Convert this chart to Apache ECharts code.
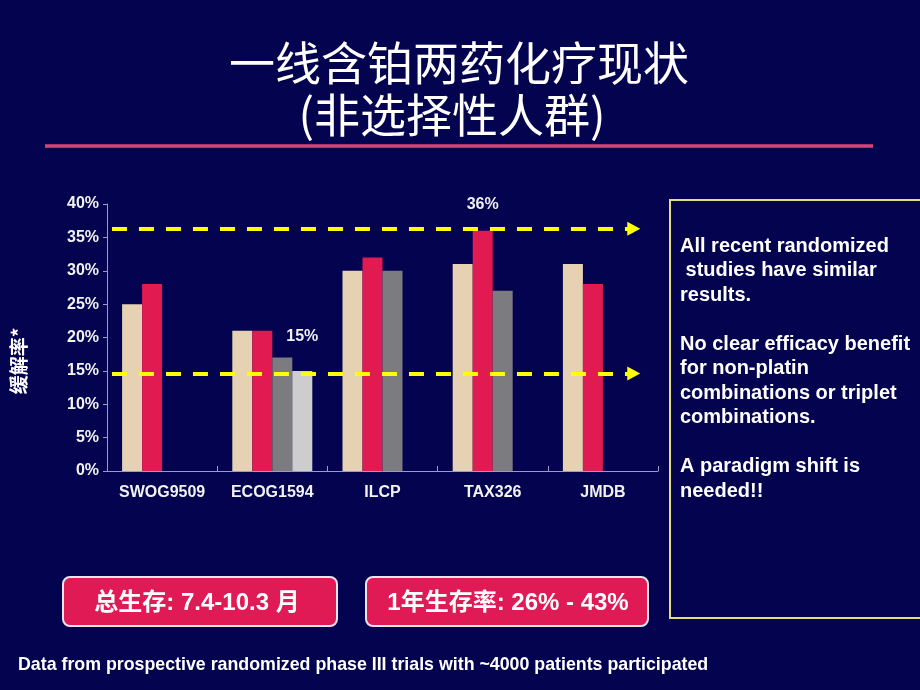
<!DOCTYPE html>
<html><head><meta charset="utf-8">
<script src="https://cdn.jsdelivr.net/npm/echarts@6/dist/echarts.min.js"></script>
<style>html,body{margin:0;padding:0;background:#03034f;}#c{width:920px;height:690px;}</style>
</head><body><div id="c"></div>
<script>
const categories = ['SWOG9509', 'ECOG1594', 'ILCP', 'TAX326', 'JMDB'];
const seriesBeige = [25, 21, 30, 31, 31];
const seriesRed = [28, 21, 32, 36, 28];
const seriesGray = [null, 17, 30, 27, null];
const seriesLight = [null, 15, null, null, null];
const callouts = [[1, 3, '36%'], [3, 1, '15%']]; // [seriesIndex, categoryIndex, text]
const guideLevels = [36.3, 14.6];
const guideSpan = [0.045, 4.78];
const titleLines = ['一线含铂两药化疗现状', '(非选择性人群)'];
const yName = '缓解率*';
const noteText = 'All recent randomized\n studies have similar\nresults.\n\nNo clear efficacy benefit\nfor non-platin\ncombinations or triplet\ncombinations.\n\nA paradigm shift is\nneeded!!';
const box1Text = '总生存: 7.4-10.3 月';
const box2Text = '1年生存率: 26% - 43%';
const footText = 'Data from prospective randomized phase III trials with ~4000 patients participated';

const colors = ['#E6D2B2', '#E21A52', '#7C7C80', '#CDCDCD'];
const FONT = '"Liberation Sans", Arial, "Noto Sans CJK SC", sans-serif';
const CJK = '"Noto Sans CJK SC", sans-serif';
const offsets = {1: -13, 3: -21};

function build(vals, si) {
  return vals.map((v, ci) => {
    const c = callouts.find(a => a[0] === si && a[1] === ci);
    if (!c || v == null) return v;
    return {value: v, label: {show: true, position: 'top', offset: [0, offsets[si]], formatter: c[2],
      color: '#F0F0F0', fontWeight: 'bold', fontSize: 16, fontFamily: FONT}};
  });
}

const chart = echarts.init(document.getElementById('c'));
const allSeries = [seriesBeige, seriesRed, seriesGray, seriesLight].map((vals, i) => ({
  type: 'bar', name: 's' + i, data: build(vals, i), barWidth: 20, barGap: '0%',
  itemStyle: {color: colors[i]}, xAxisIndex: 0, yAxisIndex: 0
}));
allSeries.push({
  type: 'line', xAxisIndex: 1, yAxisIndex: 0, data: [], silent: true,
  markLine: {
    silent: true, symbol: ['none', 'triangle'], symbolSize: [14, 13],
    label: {show: false},
    lineStyle: {type: [15, 12], width: 4, color: '#FFFF00'},
    data: guideLevels.map(v => [{coord: [guideSpan[0], v]}, {coord: [guideSpan[1], v]}])
  }
});

chart.setOption({
  backgroundColor: '#03034f',
  animation: false,
  grid: {left: 107, top: 204, width: 551, height: 267},
  xAxis: [{
    type: 'category', data: categories, gridIndex: 0,
    axisLine: {lineStyle: {color: '#9A9ACC', width: 1}},
    axisTick: {show: true, inside: true, length: 5, interval: 0, lineStyle: {color: '#9A9ACC'}},
    axisLabel: {interval: 0, hideOverlap: false, color: '#F2F2F2', fontWeight: 'bold', fontSize: 16, fontFamily: FONT, margin: 14}
  }, {
    type: 'value', gridIndex: 0, min: 0, max: 5, show: false
  }],
  yAxis: {
    type: 'value', min: 0, max: 40, interval: 5,
    splitLine: {show: false},
    axisLine: {show: true, lineStyle: {color: '#9A9ACC'}},
    axisTick: {show: true, length: 4, lineStyle: {color: '#9A9ACC'}},
    axisLabel: {formatter: '{value}%', color: '#F2F2F2', fontWeight: 'bold', fontSize: 16, fontFamily: FONT, margin: 8}
  },
  series: allSeries,
  graphic: [
    {type: 'text', x: 459, y: 63,
      style: {text: titleLines[0], fill: '#FFFFFF', font: 'normal 46px ' + CJK, align: 'center', verticalAlign: 'middle'}},
    {type: 'text', x: 452, y: 115,
      style: {text: titleLines[1], fill: '#FFFFFF', font: 'normal 46px ' + CJK, align: 'center', verticalAlign: 'middle'}},
    {type: 'rect', shape: {x: 45, y: 144, width: 828, height: 4},
      style: {fill: new echarts.graphic.LinearGradient(0, 0, 0, 1, [
        {offset: 0, color: '#9A2560'}, {offset: 0.5, color: '#E0508C'}, {offset: 1, color: '#9A2560'}])}},
    {type: 'text', x: 19, y: 361, rotation: Math.PI / 2,
      style: {text: yName, fill: '#FFFFFF', font: 'bold 19px ' + CJK,
        align: 'center', verticalAlign: 'middle'}},
    {type: 'rect', shape: {x: 670, y: 200, width: 270, height: 418},
      style: {fill: 'none', stroke: '#E2DC74', lineWidth: 2}},
    {type: 'text', x: 680, y: 234,
      style: {text: noteText, fill: '#FFFFFF', font: 'bold 20px ' + FONT, lineHeight: 24.5,
        align: 'left', verticalAlign: 'top'}},
    {type: 'rect', shape: {x: 63, y: 577, width: 274, height: 49, r: 7},
      style: {fill: '#E01A55', stroke: '#E6E6EC', lineWidth: 2}},
    {type: 'text', x: 197, y: 603,
      style: {text: box1Text, fill: '#FFFFFF', font: 'bold 24px ' + FONT, align: 'center', verticalAlign: 'middle'}},
    {type: 'rect', shape: {x: 366, y: 577, width: 282, height: 49, r: 7},
      style: {fill: '#E01A55', stroke: '#E6E6EC', lineWidth: 2}},
    {type: 'text', x: 508, y: 603,
      style: {text: box2Text, fill: '#FFFFFF', font: 'bold 24px ' + FONT, align: 'center', verticalAlign: 'middle'}},
    {type: 'text', x: 18, y: 665,
      style: {text: footText, fill: '#FFFFFF', font: 'bold 17.8px ' + FONT, align: 'left', verticalAlign: 'middle'}}
  ]
});
</script>
</body></html>
